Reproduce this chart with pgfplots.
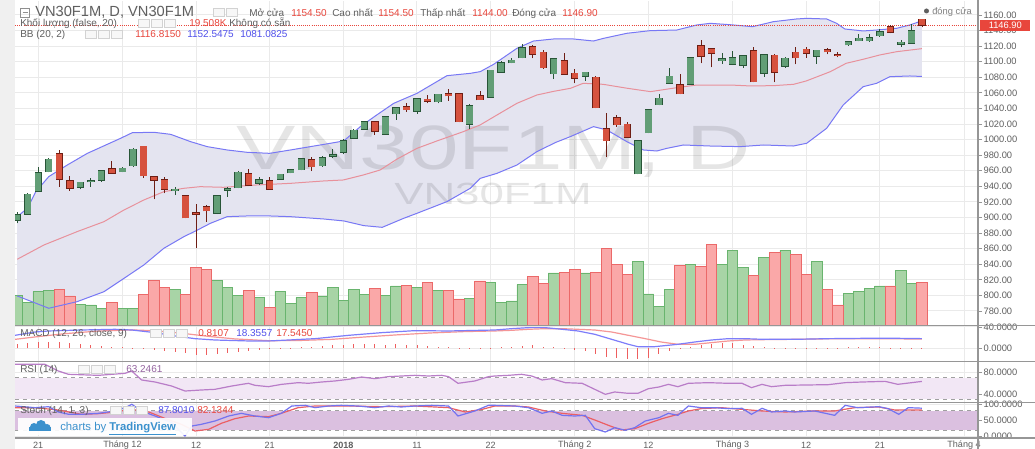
\documentclass[border=0pt]{standalone}
\usepackage{fontspec}
\setmainfont{Liberation Sans}
\usepackage{pgfplots}
\usepackage{pgfplotstable}
\pgfplotsset{compat=1.18}

\definecolor{gridc}{RGB}{234,234,234}
\definecolor{lab}{RGB}{95,95,95}
\definecolor{tickc}{RGB}{150,150,150}
\definecolor{sepc}{RGB}{150,150,150}
\definecolor{leftg}{RGB}{240,240,240}
\definecolor{candG}{RGB}{98,158,118}
\definecolor{candGb}{RGB}{40,85,55}
\definecolor{candR}{RGB}{214,82,62}
\definecolor{candRb}{RGB}{110,30,20}
\definecolor{volG}{RGB}{168,212,166}
\definecolor{volGb}{RGB}{105,180,110}
\definecolor{volR}{RGB}{250,168,168}
\definecolor{volRb}{RGB}{235,105,105}
\definecolor{bbfill}{RGB}{228,228,240}
\definecolor{bbline}{RGB}{120,120,245}
\definecolor{bbmid}{RGB}{232,145,155}
\definecolor{tvred}{RGB}{232,70,60}
\definecolor{tvblue}{RGB}{80,80,235}
\definecolor{macdb}{RGB}{125,125,250}
\definecolor{macdr}{RGB}{245,150,150}
\definecolor{histr}{RGB}{238,95,95}
\definecolor{rsiline}{RGB}{185,125,200}
\definecolor{rsifill}{RGB}{242,231,245}
\definecolor{rsidash}{RGB}{160,160,160}
\definecolor{stfill}{RGB}{219,192,224}
\definecolor{stk}{RGB}{115,115,240}
\definecolor{std}{RGB}{235,95,100}
\definecolor{tvlogo}{RGB}{60,145,205}

\pgfplotstableread{
i o h l c vg vr
0 896.8 907.5 892.6 903.3 13.3 nan
1 904.1 931.1 903.3 929.8 10.3 nan
2 934.1 965.3 933.2 957.6 15.1 nan
3 958.9 976.0 958.0 974.7 15.6 nan
4 982.0 986.7 939.6 949.0 nan 16.2
5 946.9 953.3 934.5 937.5 nan 13.2
6 938.8 946.0 936.2 945.2 9.5 nan
7 946.0 950.3 939.6 947.3 9.1 nan
8 948.2 961.0 946.0 959.7 7.4 nan
9 962.3 973.0 956.3 957.2 nan 10.4
10 958.9 964.4 958.0 963.2 7.6 nan
11 966.6 988.8 965.3 987.6 7.4 nan
12 991.4 992.3 951.2 953.8 nan 13.9
13 952.0 953.8 923.4 948.2 nan 20.1
14 948.2 951.6 931.1 936.2 nan 17.2
15 934.5 939.6 928.9 936.2 16.3 nan
16 928.1 928.9 899.0 899.8 nan 13.9
17 905.8 917.4 860.5 904.1 nan 26.3
18 913.5 916.1 894.7 908.8 nan 25.3
19 905.4 928.9 904.5 927.6 20.4 nan
20 934.9 939.6 926.8 936.6 16.9 nan
21 938.3 959.7 937.5 958.0 13.5 nan
22 955.9 962.3 940.5 941.3 nan 15.7
23 943.9 951.6 941.8 948.6 12.4 nan
24 947.3 952.5 936.2 936.6 nan 7.9
25 949.0 956.3 948.2 955.5 15.4 nan
26 957.6 961.9 956.7 961.0 9.7 nan
27 961.5 976.9 960.6 975.2 12.4 nan
28 974.3 977.3 959.7 965.3 nan 14.7
29 966.6 978.6 964.9 976.9 13.2 nan
30 978.6 988.0 976.9 980.3 16.9 nan
31 983.7 1000.8 981.1 998.7 11.3 nan
32 1001.7 1013.7 1000.8 1012.0 16.2 nan
33 1013.7 1023.9 1012.8 1023.1 13.9 nan
34 1023.1 1023.9 1006.0 1011.1 nan 16.6
35 1007.2 1030.3 1006.0 1029.1 13.6 nan
36 1033.3 1042.3 1025.2 1040.6 17.7 nan
37 1041.9 1047.5 1035.9 1038.5 nan 17.8
38 1036.3 1053.0 1032.9 1052.2 17.1 nan
39 1051.7 1057.3 1046.6 1049.6 nan 19.4
40 1048.7 1059.0 1046.6 1058.2 15.6 nan
41 1058.6 1065.0 1050.0 1056.4 nan 15.7
42 1059.0 1059.9 1022.2 1023.1 nan 11.8
43 1019.7 1045.3 1013.2 1043.2 12.2 nan
44 1056.4 1062.4 1050.9 1051.3 nan 20.0
45 1054.7 1089.8 1053.9 1089.0 19.4 nan
46 1086.8 1101.0 1086.0 1098.8 10.4 nan
47 1098.8 1105.2 1098.0 1101.8 10.9 nan
48 1105.2 1122.3 1104.4 1118.1 18.3 nan
49 1119.3 1121.5 1104.4 1109.5 nan 22.1
50 1112.1 1115.1 1090.7 1092.4 nan 18.8
51 1084.7 1105.2 1077.8 1103.5 23.6 nan
52 1101.4 1110.8 1083.0 1083.8 nan 23.7
53 1085.1 1090.3 1072.3 1079.1 nan 25.3
54 1081.3 1087.3 1075.3 1086.4 23.6 nan
55 1080.0 1081.3 1040.2 1041.0 nan 24.0
56 1013.7 1034.6 977.3 998.7 nan 34.8
57 1028.2 1031.6 1016.7 1019.2 nan 27.5
58 1019.7 1022.2 1002.5 1003.4 nan 23.1
59 956.3 999.5 955.5 998.7 28.7 nan
60 1009.0 1038.9 1008.1 1038.0 14.1 nan
61 1044.9 1058.2 1044.0 1053.0 8.6 nan
62 1072.7 1092.4 1071.9 1081.3 16.2 nan
63 1070.1 1083.8 1058.2 1059.0 nan 27.1
64 1071.4 1106.1 1070.6 1105.2 27.5 nan
65 1120.2 1127.9 1098.0 1107.4 nan 26.6
66 1116.4 1118.1 1092.8 1111.2 nan 36.4
67 1101.4 1110.8 1097.1 1104.0 27.5 nan
68 1097.1 1113.8 1095.8 1104.8 33.7 nan
69 1095.8 1108.7 1092.4 1107.4 26.2 nan
70 1114.2 1118.5 1073.6 1074.4 nan 22.5
71 1085.1 1110.4 1080.8 1108.7 30.5 nan
72 1108.2 1109.5 1073.6 1086.4 nan 33.0
73 1094.5 1106.5 1092.4 1104.4 33.9 nan
74 1112.1 1118.5 1096.7 1105.2 nan 32.2
75 1115.9 1118.5 1105.2 1110.8 nan 23.1
76 1106.9 1115.5 1097.1 1114.6 28.9 nan
77 1115.1 1117.6 1109.5 1112.9 nan 16.0
78 1109.1 1112.1 1105.7 1108.2 nan 9.1
79 1121.9 1126.6 1120.6 1125.8 14.4 nan
80 1127.1 1135.6 1126.2 1130.0 15.3 nan
81 1127.1 1135.6 1125.8 1130.9 16.6 nan
82 1133.5 1142.0 1132.2 1138.6 17.7 nan
83 1144.6 1147.2 1136.5 1137.7 nan 17.7
84 1122.8 1127.9 1119.3 1124.9 24.7 nan
85 1124.1 1148.0 1123.2 1139.5 18.8 nan
86 1154.5 1154.5 1144.0 1146.9 nan 19.5
}\candles

\pgfplotsset{
  pane/.style={
    scale only axis, anchor=south west, width=722.25pt,
    xmin=-0.21, xmax=91.33,
    axis line style={draw=none},
    xtick={2,10,17,24,31,38,45,53,60,68,75,82,90},
    xticklabels={},
    xmajorgrids, ymajorgrids,
    grid style={draw=gridc, line width=0.75pt},
    ytick pos=right, yticklabel pos=right,
    tick align=outside, major tick length=3pt,
    xtick style={draw=none},
    ytick style={draw=tickc, line width=0.6pt},
    scaled y ticks=false,
    /pgf/number format/assume math mode=true,
    yticklabel style={font=\fontsize{7}{8}\selectfont, text=lab, inner sep=1pt},
  },
  ovl/.style={scale only axis, anchor=south west, width=722.25pt,
    xmin=-0.21, xmax=91.33, hide axis},
  wick/.style={draw=none, mark=none, error bars/.cd, y dir=plus, y explicit, error mark=none,
    error bar style={draw=#1, line width=0.6pt}},
  body/.style 2 args={draw=none, mark=none, error bars/.cd, y dir=plus, y explicit, error mark=none,
    error bar style={draw=#1, line width=#2}},
}
\newcommand\lt[4]{\node[anchor=mid west, inner sep=0pt, text=#3, font=\fontsize{#4}{#4}\selectfont] at (#1) {#2};}
\newcommand\icons[3]{\foreach \k in {1,...,#3}{\draw[gray!35, fill=gray!6, line width=0.4pt] ({#1+13*(\k-1)},{#2-4}) rectangle ({#1+13*(\k-1)+11},{#2+4});}}

\begin{document}
\begin{tikzpicture}[x=0.75pt,y=0.75pt]
\fill[white] (0,0) rectangle (1035,449);
\fill[leftg] (0,0) rectangle (15,449);

% ---------- main pane: grid, price scale, band fill
\begin{axis}[pane, at={(11.25pt,93pt)}, height=243pt,
  ymin=762.02, ymax=1177.97, ytick={780,800,...,1160},
  yticklabel style={/pgf/number format/.cd, fixed, fixed zerofill, precision=2, 1000 sep={}}]
\addplot[fill=bbfill, draw=none] coordinates {(0,901.1) (0.97,911.8) (1.76,933.0) (3.0,952.5) (4.76,967.4) (6.67,982.4) (9.83,1001.7) (10.94,1008.9) (13.0,1009.4) (14.58,1006.8) (16.48,997.4) (18.06,991.0) (19.96,986.7) (21.86,983.7) (24.0,982.4) (25.97,986.7) (27.87,991.0) (29.77,995.3) (31.04,998.3) (32.62,1016.7) (34.0,1030.0) (35.79,1046.6) (38.0,1059.4) (40.85,1082.1) (43.07,1085.1) (44.02,1087.3) (45.29,1096.7) (47.5,1117.2) (49.08,1126.6) (50.98,1129.2) (52.88,1129.2) (54.78,1126.6) (55.73,1130.0) (57.95,1136.5) (60.17,1139.9) (62.7,1140.7) (64.6,1147.2) (65.87,1149.3) (67.8,1147.5) (69.9,1145.0) (71.87,1151.4) (74.08,1154.9) (75.04,1155.7) (76.94,1154.9) (77.89,1149.3) (78.68,1142.0) (80.42,1139.5) (81.69,1140.7) (83.59,1142.9) (84.85,1147.2) (86,1152.5)
 (86,1081.1) (84.85,1081.7) (82.95,1080.8) (81.69,1072.3) (80.42,1068.0) (78.52,1044.5) (76.94,1014.5) (75.04,995.3) (73.77,991.8) (70.93,993.1) (68.72,991.0) (65.87,991.8) (63.33,993.1) (61.75,988.8) (60.8,985.4) (59.53,986.7) (57.95,997.4) (56.05,1012.4) (54.78,1016.7) (52.57,1003.8) (51.2,996.5) (49.4,984.6) (47.5,967.4) (45.6,956.7) (44.02,950.3) (43.07,937.5) (40.85,920.4) (38.0,905.4) (36.74,899.0) (34.7,887.4) (32.94,889.6) (31.04,895.6) (29.14,898.1) (25.97,901.1) (24.0,902.0) (21.86,902.0) (19.96,901.1) (18.37,892.6) (17.0,883.0) (15.84,875.4) (13.94,860.5) (12.04,839.1) (10.15,821.9) (8.25,804.8) (5.7,792.0) (3.0,783.5) (0,799.3)} -- cycle;
\end{axis}

% watermarks
\node[anchor=base west, inner sep=0pt, text=black, text opacity=0.1, font=\fontsize{47}{47}\selectfont] at (236,279) {\scalebox{1.42}[1]{VN30F1M, D}};
\node[anchor=base west, inner sep=0pt, text=black, text opacity=0.1, font=\fontsize{23}{23}\selectfont] at (394,244) {\scalebox{1.43}[1]{VN30F1M}};

% ---------- volume
\begin{axis}[ovl, at={(11.25pt,93pt)}, height=243pt, ymin=0, ymax=147]
\addplot[ybar, bar width=1, bar shift=0pt, fill=volG, draw=volGb, line width=0.6pt] table[x=i, y=vg] {\candles};
\addplot[ybar, bar width=1, bar shift=0pt, fill=volR, draw=volRb, line width=0.6pt] table[x=i, y=vr] {\candles};
\end{axis}

% ---------- bands and candles
\begin{axis}[ovl, at={(11.25pt,93pt)}, height=243pt, ymin=762.02, ymax=1177.97]
\addplot[bbline, line width=0.75pt] coordinates {(0,901.1) (0.97,911.8) (1.76,933.0) (3.0,952.5) (4.76,967.4) (6.67,982.4) (9.83,1001.7) (10.94,1008.9) (13.0,1009.4) (14.58,1006.8) (16.48,997.4) (18.06,991.0) (19.96,986.7) (21.86,983.7) (24.0,982.4) (25.97,986.7) (27.87,991.0) (29.77,995.3) (31.04,998.3) (32.62,1016.7) (34.0,1030.0) (35.79,1046.6) (38.0,1059.4) (40.85,1082.1) (43.07,1085.1) (44.02,1087.3) (45.29,1096.7) (47.5,1117.2) (49.08,1126.6) (50.98,1129.2) (52.88,1129.2) (54.78,1126.6) (55.73,1130.0) (57.95,1136.5) (60.17,1139.9) (62.7,1140.7) (64.6,1147.2) (65.87,1149.3) (67.8,1147.5) (69.9,1145.0) (71.87,1151.4) (74.08,1154.9) (75.04,1155.7) (76.94,1154.9) (77.89,1149.3) (78.68,1142.0) (80.42,1139.5) (81.69,1140.7) (83.59,1142.9) (84.85,1147.2) (86,1152.5)};
\addplot[bbline, line width=0.75pt] coordinates {(0,799.3) (3.0,783.5) (5.7,792.0) (8.25,804.8) (10.15,821.9) (12.04,839.1) (13.94,860.5) (15.84,875.4) (17.0,883.0) (18.37,892.6) (19.96,901.1) (21.86,902.0) (24.0,902.0) (25.97,901.1) (29.14,898.1) (31.04,895.6) (32.94,889.6) (34.7,887.4) (36.74,899.0) (38.0,905.4) (40.85,920.4) (43.07,937.5) (44.02,950.3) (45.6,956.7) (47.5,967.4) (49.4,984.6) (51.2,996.5) (52.57,1003.8) (54.78,1016.7) (56.05,1012.4) (57.95,997.4) (59.53,986.7) (60.8,985.4) (61.75,988.8) (63.33,993.1) (65.87,991.8) (68.72,991.0) (70.93,993.1) (73.77,991.8) (75.04,995.3) (76.94,1014.5) (78.52,1044.5) (80.42,1068.0) (81.69,1072.3) (82.95,1080.8) (84.85,1081.7) (86,1081.1)};
\addplot[bbmid, line width=0.75pt] coordinates {(0,846.4) (2.55,864.8) (5.7,881.9) (8.25,894.7) (10.15,909.7) (12.04,922.5) (13.94,933.2) (15.84,937.5) (17.4,939.6) (19.6,938.8) (22.8,941.8) (26.0,943.9) (29.1,946.9) (31.0,948.2) (32.9,954.6) (34.5,961.0) (36.1,975.0) (38.0,988.8) (39.9,998.3) (42.4,1010.2) (44.0,1018.8) (45.6,1031.6) (47.5,1046.6) (49.4,1057.3) (51.0,1062.0) (52.6,1065.9) (53.8,1072.3) (55.7,1071.0) (58.0,1065.9) (60.2,1061.6) (62.7,1066.7) (64.6,1070.1) (67.8,1070.1) (69.7,1068.9) (71.9,1069.3) (73.8,1071.0) (75.0,1075.3) (77.3,1087.3) (78.8,1098.0) (80.4,1103.1) (82.0,1108.7) (83.6,1112.9) (86,1116.8)};
\addplot[tvred, densely dotted, line width=0.6pt] coordinates {(-0.21,1146.9) (91.33,1146.9)};
% green candles
\addplot[restrict expr to domain={\thisrow{c}-\thisrow{o}}{0:2000}, wick=candGb]
  table[x=i, y=l, y error expr={\thisrow{h}-\thisrow{l}}] {\candles};
\addplot[restrict expr to domain={\thisrow{c}-\thisrow{o}}{0:2000}, body={candGb}{5.55pt}]
  table[x=i, y expr={\thisrow{o}-0.77}, y error expr={\thisrow{c}-\thisrow{o}+1.54}] {\candles};
\addplot[restrict expr to domain={\thisrow{c}-\thisrow{o}}{0:2000}, body={candG}{4.65pt}]
  table[x=i, y=o, y error expr={\thisrow{c}-\thisrow{o}}] {\candles};
% red candles
\addplot[restrict expr to domain={\thisrow{o}-\thisrow{c}}{0:2000}, wick=candRb]
  table[x=i, y=l, y error expr={\thisrow{h}-\thisrow{l}}] {\candles};
\addplot[restrict expr to domain={\thisrow{o}-\thisrow{c}}{0:2000}, body={candRb}{5.55pt}]
  table[x=i, y expr={\thisrow{c}-0.77}, y error expr={\thisrow{o}-\thisrow{c}+1.54}] {\candles};
\addplot[restrict expr to domain={\thisrow{o}-\thisrow{c}}{0:2000}, body={candR}{4.65pt}]
  table[x=i, y=c, y error expr={\thisrow{o}-\thisrow{c}}] {\candles};
\end{axis}

% ---------- MACD
\begin{axis}[pane, at={(11.25pt,66pt)}, height=26.25pt, ymin=-23.26, ymax=41.86, ytick={0,40},
  yticklabel style={/pgf/number format/.cd, fixed, fixed zerofill, precision=4}]
\addplot[ycomb, draw=histr, line width=0.7pt] coordinates {(0,7.8) (1,9.6) (2,12.1) (3,13.0) (4,12.2) (5,10.9) (6,9.0) (7,6.5) (8,4.7) (9,3.4) (10,2.2) (11,1.6) (12,0.3) (13,-2.8) (14,-4.7) (15,-6.5) (16,-9.0) (17,-12.7) (18,-12.7) (19,-10.9) (20,-9.0) (21,-6.5) (22,-4.7) (23,-2.8) (24,-0.9) (25,-0.3) (26,1.6) (27,2.8) (28,3.4) (29,4.7) (30,5.9) (31,6.5) (32,7.8) (33,7.8) (34,7.8) (35,7.1) (36,7.8) (37,6.5) (38,5.9) (39,4.7) (40,3.4) (41,2.8) (42,1.6) (43,0.3) (44,-0.3) (45,0.5) (46,2.2) (47,3.4) (48,4.7) (49,5.9) (50,3.4) (51,2.2) (52,0.3) (53,-2.8) (54,-5.3) (55,-9.6) (56,-15.8) (57,-18.3) (58,-18.9) (59,-20.2) (60,-17.1) (61,-10.9) (62,-5.3) (63,-1.6) (64,3.4) (65,5.9) (66,9.0) (67,9.6) (68,9.6) (69,7.1) (70,4.7) (71,2.2) (72,0.9) (73,0.2) (74,0.1) (75,0.1) (76,0.1) (77,0.3) (78,0.8) (79,2.2) (80,2.2) (81,2.8) (82,2.8) (83,1.6) (84,0.9) (85,0.9) (86,0.81)};
\addplot[macdr, line width=0.9pt] coordinates {(-0.2,17.0) (1.7,21.5) (4.5,27.5) (7.7,32.5) (10.9,34.6) (13.1,33.0) (15.6,28.5) (18.2,22.5) (20.7,17.8) (23.9,14.5) (26.7,14.8) (29.9,17.0) (33.1,21.5) (36.2,25.5) (39.4,29.0) (42.6,31.5) (45.4,32.6) (47.0,33.8) (48.6,35.7) (50.2,36.9) (51.8,36.9) (53.3,35.7) (54.9,34.4) (56.5,30.7) (58.1,24.5) (59.7,18.3) (61.2,12.1) (62.8,7.8) (64.4,7.8) (66.0,10.9) (67.6,14.0) (69.2,15.8) (70.8,16.4) (74.0,17.1) (77.1,18.0) (80.3,18.3) (83.4,18.0) (86,17.55)};
\addplot[macdb, line width=0.9pt] coordinates {(-0.2,24.5) (1.7,30.7) (3.0,32.6) (6.1,34.4) (9.3,35.7) (10.9,34.4) (13.1,29.5) (15.0,23.3) (16.9,18.3) (18.8,15.8) (22.0,14.0) (23.9,14.0) (25.8,15.8) (28.3,18.3) (31.5,24.5) (34.65,29.5) (37.8,33.2) (41.0,32.6) (45.4,34.4) (47.0,36.9) (48.6,38.8) (50.2,38.8) (51.8,35.7) (53.3,32.6) (54.9,26.4) (56.5,17.1) (58.1,7.8) (59.0,3.4) (60.6,3.4) (62.8,7.8) (64.4,12.1) (66.0,15.8) (67.6,18.3) (69.2,18.3) (70.8,17.1) (74.0,17.1) (77.1,18.3) (80.3,18.9) (83.4,19.0) (86,18.36)};
\end{axis}

% ---------- RSI
\begin{axis}[pane, at={(11.25pt,35.25pt)}, height=30pt, ymin=25.25, ymax=98.99, ytick={40,80},
  yticklabel style={/pgf/number format/.cd, fixed, fixed zerofill, precision=4}]
\addplot[fill=rsifill, draw=none] coordinates {(-0.21,30) (91.33,30) (91.33,70) (-0.21,70)} -- cycle;
\addplot[rsidash, dashed, line width=0.6pt] coordinates {(-0.21,30) (91.33,30)};
\addplot[rsidash, dashed, line width=0.6pt] coordinates {(-0.21,70) (91.33,70)};
\addplot[rsiline, line width=0.9pt] coordinates {(-0.2,94.7) (2.64,94.7) (3.91,82.4) (4.86,76.3) (7.71,74.4) (10.25,78.1) (10.88,82.4) (11.83,65.8) (13.1,62.1) (14.68,54.7) (15.95,45.5) (17.53,47.4) (18.8,48.6) (20.39,54.7) (21.97,59.7) (22.6,56.0) (23.87,53.5) (25.14,57.8) (26.72,60.9) (27.67,59.7) (28.94,62.1) (30.2,64.0) (31.48,67.0) (32.74,71.3) (34.0,68.3) (35.28,72.0) (36.55,73.2) (37.8,74.4) (39.1,73.2) (40.35,74.4) (41.0,72.0) (41.9,59.7) (43.5,64.0) (44.8,72.0) (45.4,73.2) (46.7,74.4) (47.95,76.3) (48.9,73.2) (49.9,65.8) (50.8,68.3) (52.1,60.9) (53.7,59.7) (54.9,48.6) (55.9,39.4) (56.8,43.7) (58.1,41.2) (59.0,41.2) (60.0,49.8) (61.0,52.9) (61.9,57.8) (62.8,53.5) (63.8,59.7) (65.7,60.9) (67.6,59.7) (68.9,59.7) (69.8,51.7) (70.8,57.8) (71.7,53.5) (73.0,56.0) (77.1,57.2) (78.7,60.9) (80.3,62.1) (82.5,63.3) (83.7,57.8) (86,63.2)};
\end{axis}

% ---------- Stoch
\begin{axis}[pane, at={(11.25pt,8.25pt)}, height=26.25pt, ymin=-4.87, ymax=103.93, ytick={0,50,100},
  yticklabel style={/pgf/number format/.cd, fixed, fixed zerofill, precision=4},
  xticklabels={21,Tháng 12,12,21,\textbf{2018},11,22,Tháng 2,12,Tháng 3,12,21,Tháng 4},
  xticklabel style={font=\fontsize{6.8}{7}\selectfont, text=lab, anchor=center, inner sep=0pt, yshift=-2.4pt}]
\addplot[fill=stfill, draw=none] coordinates {(-0.21,20) (91.33,20) (91.33,80) (-0.21,80)} -- cycle;
\addplot[rsidash, dashed, line width=0.6pt] coordinates {(-0.21,20) (91.33,20)};
\addplot[rsidash, dashed, line width=0.6pt] coordinates {(-0.21,80) (91.33,80)};
\addplot[std, line width=0.9pt] coordinates {(-0.2,89.4) (1.7,89.4) (3.9,82.2) (6.1,68.7) (7.7,70.8) (9.3,76.0) (10.9,84.2) (12.5,76.0) (14.1,55.2) (15.6,37.6) (16.9,16.9) (18.2,22.1) (19.4,40.7) (20.7,55.2) (22.0,63.5) (23.9,61.5) (25.1,71.8) (26.7,89.4) (28.3,94.6) (31.5,94.6) (34.7,92.5) (37.8,94.6) (41.0,89.4) (42.6,76.0) (44.2,84.2) (45.4,94.6) (47.3,94.6) (48.6,91.5) (50.2,79.1) (51.8,71.8) (53.7,65.6) (54.9,51.1) (56.2,34.5) (57.4,20.0) (58.7,24.1) (60.0,40.7) (61.3,55.2) (62.8,68.7) (63.8,79.1) (65.0,86.3) (66.9,89.4) (68.9,84.2) (70.8,79.1) (73.0,76.0) (75.8,79.1) (77.7,79.1) (79.6,89.4) (81.9,91.5) (83.4,82.2) (86,82.1)};
\addplot[stk, line width=0.9pt] coordinates {(-0.2,94.6) (1.7,89.4) (3.0,92.5) (3.9,76.0) (4.9,68.7) (6.1,68.7) (7.7,71.8) (9.3,79.1) (10.25,89.4) (10.9,99.8) (11.8,79.1) (13.1,63.5) (14.7,42.8) (15.95,1.3) (16.6,32.4) (17.5,37.6) (18.8,48.0) (20.1,63.5) (21.3,71.8) (22.6,63.5) (23.9,58.3) (25.1,71.8) (26.1,94.6) (27.4,96.7) (28.3,89.4) (29.6,94.6) (30.8,96.7) (32.4,94.6) (34.0,89.4) (35.3,94.6) (36.5,91.5) (37.8,94.6) (39.4,96.7) (41.0,94.6) (41.9,63.5) (43.5,79.1) (44.8,96.7) (45.4,96.7) (47.3,94.6) (48.6,89.4) (49.9,71.8) (50.8,79.1) (51.8,65.6) (53.0,63.5) (54.0,65.6) (54.9,24.1) (55.9,13.8) (56.8,27.3) (57.8,19.0) (58.7,27.3) (59.7,48.0) (61.0,58.3) (61.9,71.8) (62.8,65.6) (63.8,94.6) (65.0,89.4) (66.3,89.4) (67.6,86.3) (68.9,87.4) (69.8,68.7) (70.8,87.4) (71.7,76.0) (73.0,79.1) (73.9,76.0) (75.8,79.1) (77.7,65.6) (78.7,96.7) (79.9,89.4) (81.9,92.5) (82.8,86.3) (83.8,68.7) (84.7,89.4) (86,87.8)};
\end{axis}

% ---------- separators and frame
\draw[sepc, line width=0.9pt] (15,123.5) -- (1035,123.5);
\draw[sepc, line width=1.2pt] (15,87.5) -- (1035,87.5);
\draw[sepc, line width=1.2pt] (15,46.5) -- (1035,46.5);
\draw[sepc, line width=0.8pt] (15,11) -- (1035,11);
\draw[sepc, line width=0.8pt] (978,0) -- (978,449);

% last price tag
\node[fill=tvred, text=white, font=\fontsize{7}{8}\selectfont, inner sep=0pt, minimum width=37.5pt, minimum height=8.25pt, anchor=west] at (980,423.5) {1146.90};

% legends
\draw[lab!70, line width=0.5pt] (20.5,432) rectangle (29.5,441);
\draw[lab!70, line width=0.5pt] (22.5,436.5) -- (27.5,436.5);
\lt{35,436.5}{VN30F1M, D, VN30F1M}{lab}{11}
\icons{213}{436.5}{2}
\lt{249,436.3}{Mở cửa}{lab}{7.5}
\lt{291,436.3}{1154.50}{tvred}{7.5}
\lt{332,436.3}{Cao nhất}{lab}{7.5}
\lt{378,436.3}{1154.50}{tvred}{7.5}
\lt{420,436.3}{Thấp nhất}{lab}{7.5}
\lt{472,436.3}{1144.00}{tvred}{7.5}
\lt{512,436.3}{Đóng cửa}{lab}{7.5}
\lt{562,436.3}{1146.90}{tvred}{7.5}
\lt{20,426}{Khối lượng (false, 20)}{lab}{7.5}
\icons{138}{426}{3}
\lt{189,426}{19.508K}{tvred}{7.5}
\lt{229,426}{Không có sẵn}{lab}{7.5}
\lt{20,415}{BB (20, 2)}{lab}{7.5}
\icons{85}{415}{3}
\lt{135,415}{1116.8150}{tvred}{7.5}
\lt{187,415}{1152.5475}{tvblue}{7.5}
\lt{240,415}{1081.0825}{tvblue}{7.5}
\fill[lab] (926.5,438) circle (2.5);
\lt{932,438}{đóng cửa}{lab!80}{7}

\lt{20,116}{MACD (12, 26, close, 9)}{lab}{7.5}
\icons{150}{116}{3}
\lt{198,116}{0.8107}{tvred}{7.5}
\lt{236,116}{18.3557}{tvblue}{7.5}
\lt{276,116}{17.5450}{tvred}{7.5}

\lt{20,80}{RSI (14)}{lab}{7.5}
\icons{78}{80}{3}
\lt{126,80}{63.2461}{rsiline!80!black}{7.5}

\lt{20,39}{Stoch (14, 1, 3)}{lab}{7.5}
\icons{110}{39}{3}
\lt{158,39}{87.8010}{tvblue}{7.5}
\lt{197,39}{82.1344}{tvred}{7.5}

% TradingView badge
\fill[white, fill opacity=0.92] (18,14) rectangle (192,31);
\fill[tvlogo] (29,18) rectangle (51,22);
\fill[tvlogo] (34,22) circle (4);
\fill[tvlogo] (41,24) circle (5);
\fill[tvlogo] (47,21.5) circle (3.5);
\node[anchor=mid west, inner sep=0pt, text=tvlogo, font=\fontsize{8.5}{8.5}\selectfont] at (60,22.5) {charts by \underline{\textbf{TradingView}}};

\pgfresetboundingbox
\path[use as bounding box] (0,0) rectangle (1035,449);
\end{tikzpicture}
\end{document}
